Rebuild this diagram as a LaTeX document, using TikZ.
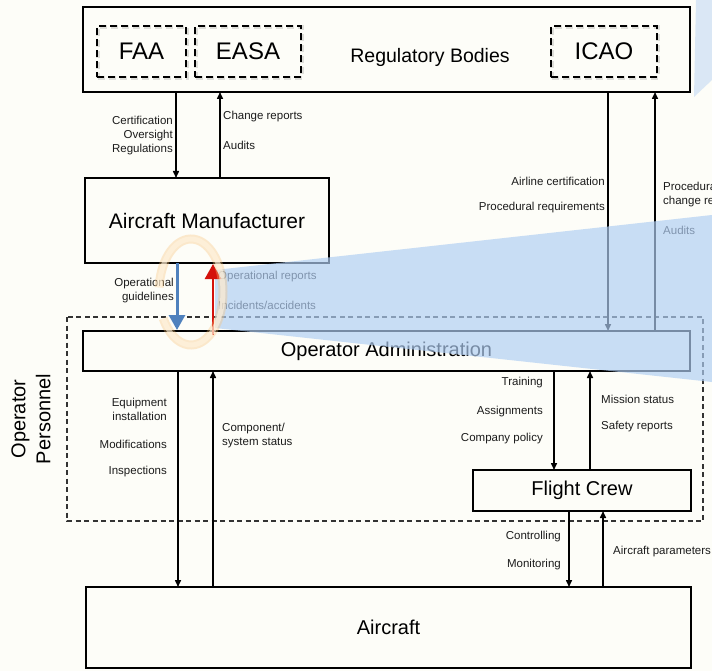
\documentclass[tikz,border=0pt]{standalone}
\usepackage{fontspec}
\setmainfont{Liberation Sans}
\usetikzlibrary{arrows.meta}
\definecolor{paper}{RGB}{253,253,248}
\definecolor{ink}{RGB}{28,28,28}
\definecolor{flowblue}{RGB}{79,129,189}
\definecolor{flowred}{RGB}{212,18,12}
\definecolor{lensblue}{RGB}{176,206,243}
\definecolor{ringedge}{RGB}{250,195,120}
\definecolor{ringfill}{RGB}{255,244,225}
\begin{document}
\begin{tikzpicture}[x=1pt,y=-1pt,
  box/.style={draw=black,line width=2pt,fill=paper,inner sep=0pt,outer sep=0pt},
  agency/.style={draw=black,line width=1.7pt,dash pattern=on 7pt off 4pt,
    inner sep=0pt,outer sep=0pt,minimum height=51pt,
    font=\fontsize{24}{28}\selectfont},
  agencyshadow/.style={draw=black,draw opacity=0.12,line width=3.5pt,
    dash pattern=on 7pt off 4pt,inner sep=0pt,minimum height=51pt},
  flow/.style={line width=1.5pt,draw=black,-{Triangle[width=6pt,length=7pt]}},
  lbl/.style={font=\fontsize{11.5}{14}\selectfont,text=ink,inner sep=0pt},
  big/.style={font=\fontsize{20}{25}\selectfont},
]
\useasboundingbox (0,0) rectangle (712,671);
\clip (0,0) rectangle (712,671);
\fill[paper] (0,0) rectangle (712,671);

% ---------- boxes ----------
\node[box,minimum width=607pt,minimum height=85pt] (reg) at (386.5,49.5) {};
\foreach \nm/\cx/\w in {faa/141.5/89, easa/248/106, icao/604/106}
  \node[agencyshadow,minimum width=\w pt] at (\cx+1,52.5) {};
\node[agency,minimum width=89pt] (faa) at (141.5,51.5) {FAA};
\node[agency,minimum width=106pt] (easa) at (248,51.5) {EASA};
\node[agency,minimum width=106pt] (icao) at (604,51.5) {ICAO};
\node[font=\fontsize{19.5}{23}\selectfont] (reglbl) at (430,57) {Regulatory Bodies};

\node[box,minimum width=244pt,minimum height=85pt,
  font=\fontsize{21}{25}\selectfont] (mfr) at (207,220.5) {Aircraft Manufacturer};

\draw[black!80,line width=1.3pt,dash pattern=on 5pt off 3.5pt]
  (67,317) rectangle (703,521);
\coordinate (perbox) at (385,419);
\node[big,rotate=90,align=center,inner sep=0pt] (perlbl) at (31,419)
  {Operator\\Personnel};

\node[box,big,minimum width=607pt,minimum height=40pt] (opadm) at (386.5,351)
  {Operator Administration};
\node[box,big,minimum width=218pt,minimum height=41pt] (crew) at (582,490.5)
  {Flight Crew};
\node[box,big,minimum width=605pt,minimum height=81pt] (acft) at (388.5,627.5)
  {Aircraft};

% ---------- black connectors ----------
\draw[flow] ([xshift=93pt]reg.south west) -- ([xshift=91pt]mfr.north west);
\draw[flow] ([xshift=135pt]mfr.north west) -- ([xshift=137pt]reg.south west);
\draw[flow] ([xshift=525pt]reg.south west) -- ([xshift=525pt]opadm.north west);
\draw[flow] ([xshift=572pt]opadm.north west) -- ([xshift=572pt]reg.south west);
\draw[flow] ([xshift=95pt]opadm.south west) -- ([xshift=92pt]acft.north west);
\draw[flow] ([xshift=127pt]acft.north west) -- ([xshift=130pt]opadm.south west);
\draw[flow] ([xshift=471pt]opadm.south west) -- ([xshift=81pt]crew.north west);
\draw[flow] ([xshift=117pt]crew.north west) -- ([xshift=507pt]opadm.south west);
\draw[flow] ([xshift=96pt]crew.south west) -- ([xshift=483pt]acft.north west);
\draw[flow] ([xshift=517pt]acft.north west) -- ([xshift=130pt]crew.south west);

% ---------- connector labels ----------
\node[lbl,anchor=east,align=right] (l1) at (173,136) {Certification\\Oversight\\Regulations};
\node[lbl,anchor=west] (l2) at (223,117) {Change reports};
\node[lbl,anchor=west] (l3) at (223,145) {Audits};
\node[lbl,anchor=east] (l4) at (605,181) {Airline certification};
\node[lbl,anchor=east] (l5) at (605,208) {Procedural requirements};
\node[lbl,anchor=west,align=left] (l6) at (663,194.5) {Procedural\\change reports};
\node[lbl,anchor=west] (l7) at (663,230) {Audits};
\node[lbl,anchor=east,align=right] (l8) at (174,290.5) {Operational\\guidelines};
\node[lbl,anchor=west] (l9) at (218,277) {Operational reports};
\node[lbl,anchor=west] (l10) at (218,305) {Incidents/accidents};
\node[lbl,anchor=east,align=right] (l11) at (167,409) {Equipment\\installation};
\node[lbl,anchor=east] (l12) at (167,444) {Modifications};
\node[lbl,anchor=east] (l13) at (167,472) {Inspections};
\node[lbl,anchor=west,align=left] (l14) at (222,435.5) {Component/\\system status};
\node[lbl,anchor=east] (l15) at (543,383) {Training};
\node[lbl,anchor=east] (l16) at (543,412) {Assignments};
\node[lbl,anchor=east] (l17) at (543,439) {Company policy};
\node[lbl,anchor=west] (l18) at (601,399) {Mission status};
\node[lbl,anchor=west] (l19) at (601,427) {Safety reports};
\node[lbl,anchor=east] (l20) at (561,537) {Controlling};
\node[lbl,anchor=east] (l21) at (561,565) {Monitoring};
\node[lbl,anchor=west] (l22) at (613,552) {Aircraft parameters};

% ---------- magnifier callout ----------
\fill[lensblue,opacity=0.68] (215,270) -- (712,215) -- (712,382) -- (215,328) -- cycle;
\fill[lensblue,opacity=0.45] (696,0) -- (712,0) -- (712,80) -- (694,97) -- cycle;

% ---------- highlighted manufacturer/operator exchange ----------
\draw[flowblue,line width=3pt,-{Triangle[width=16pt,length=15pt]}]
  ([xshift=92pt]mfr.south west) -- ([xshift=94pt,yshift=1pt]opadm.north west);
\draw[flowred,line width=2.5pt,-{Triangle[width=16pt,length=15pt]}]
  ([xshift=130pt,yshift=-4pt]opadm.north west) -- ([xshift=128pt,yshift=-1pt]mfr.south west);

\draw[ringedge,opacity=0.35,line width=9pt]
  (191,292) ++(185:32 and 53) arc[start angle=185,end angle=510,x radius=32,y radius=53];
\draw[ringfill,opacity=0.6,line width=5pt]
  (191,292) ++(185:32 and 53) arc[start angle=185,end angle=510,x radius=32,y radius=53];
\end{tikzpicture}
\end{document}
